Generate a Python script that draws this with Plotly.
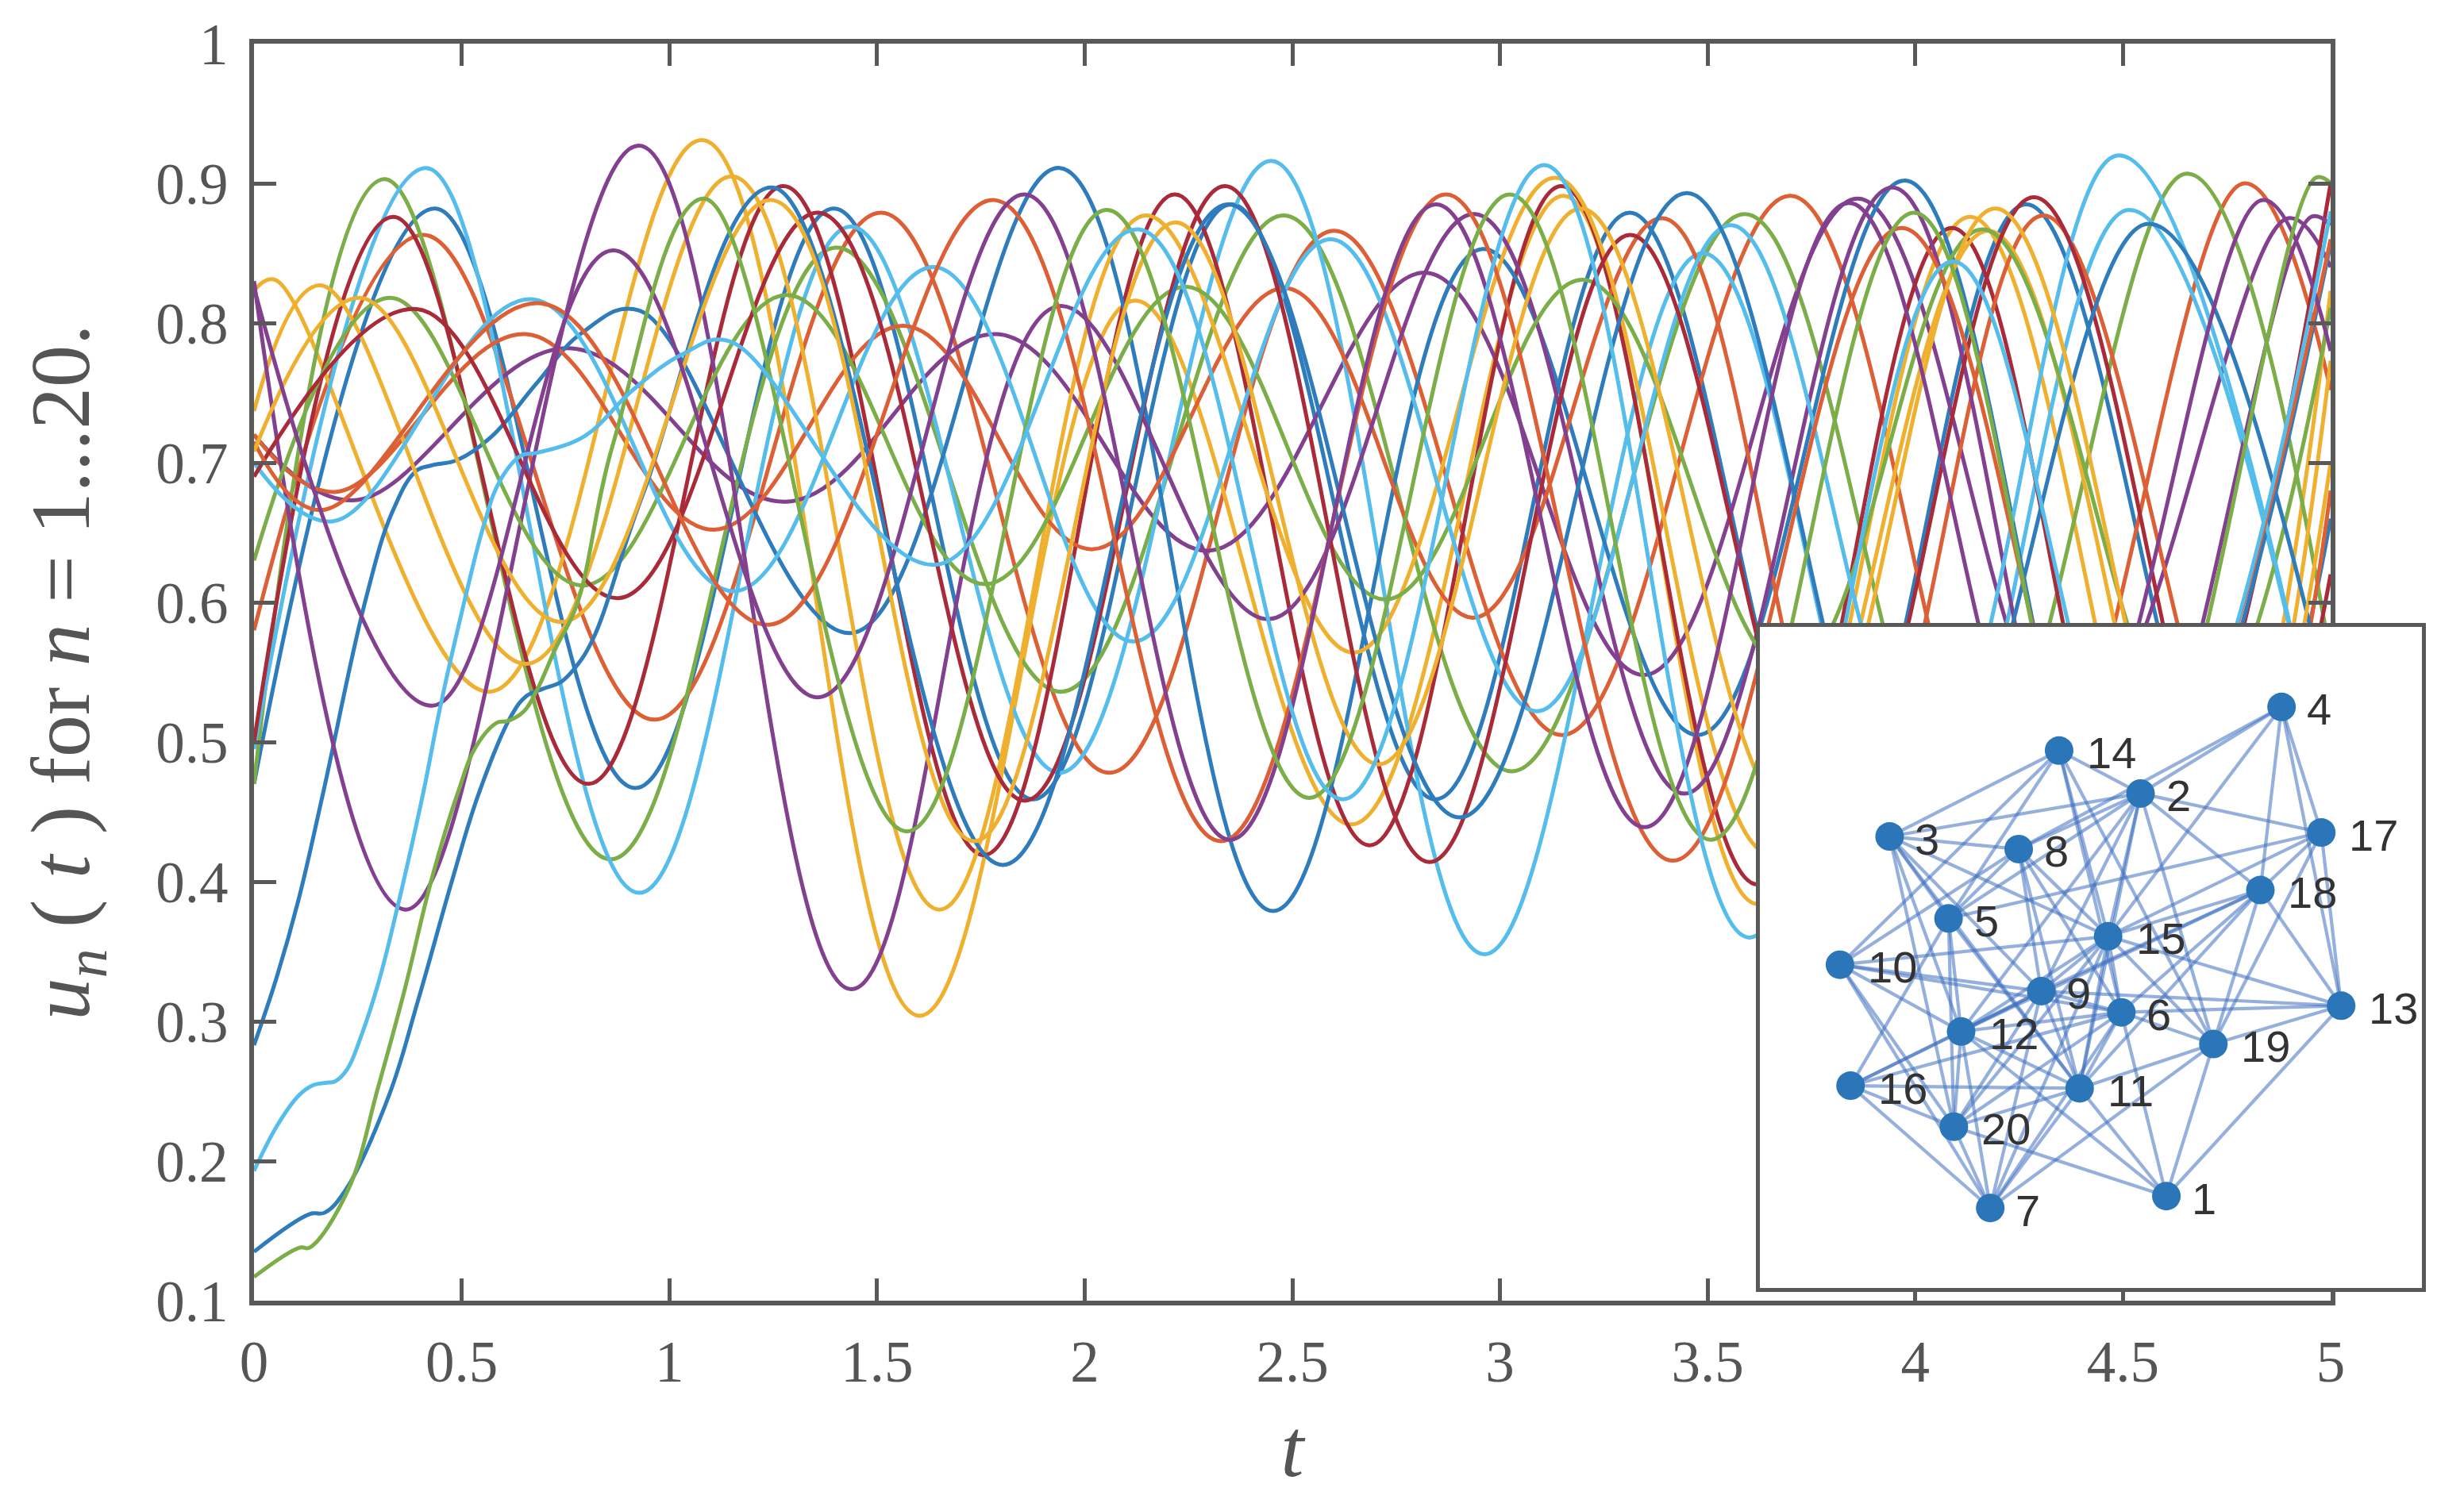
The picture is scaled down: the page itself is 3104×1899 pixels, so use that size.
import plotly.graph_objects as go

# ---- main curves: knots (t, u) ----
t_b1 = [0,.435,.918,1.396,1.876,2.353,2.845,3.312,3.8,4.267,4.76,5]
u_b1 = [.47,.882,.467,.882,.459,.885,.459,.879,.45,.885,.44,.66]
t_o1 = [0,.407,.965,1.51,2.059,2.6,3.15,3.70,4.25,4.793,5]
u_o1 = [.58,.863,.516,.879,.478,.866,.505,.891,.42,.90,.752]
t_y1 = [0,.05,.568,1.08,1.602,2.12,2.643,3.153,3.62,4.132,4.66,5]
u_y1 = [.823,.831,.536,.931,.304,.816,.441,.891,.384,.876,.37,.823]
t_p1 = [0,.237,.754,1.28,1.79,2.30,2.824,3.348,3.862,4.38,4.898,5]
u_p1 = [.72,.673,.782,.672,.792,.637,.836,.548,.889,.5,.875,.84]
t_g1 = [0,.313,.858,1.4,1.943,2.48,3.028,3.59,4.12,4.655,5]
u_g1 = [.47,.903,.416,.854,.536,.877,.479,.878,.45,.907,.56]
t_l1 = [0,.414,.927,1.436,1.94,2.45,2.962,3.488,4.0,4.515,5]
u_l1 = [.495,.911,.392,.869,.478,.916,.348,.85,.4,.881,.45]
t_r1 = [0,.335,.805,1.275,1.757,2.217,2.686,3.148,3.62,4.088,4.55,5]
u_r1 = [.50,.876,.47,.898,.419,.892,.426,.898,.398,.868,.41,.90]
t_b2 = [0,.054,.108,.166,.268,.332,.39,.427,.49,.573,.681,.79,.927,1.438,1.94,2.453,2.958,3.477,3.975,4.5,5]
u_b2 = [.283,.331,.388,.463,.601,.664,.694,.698,.702,.719,.757,.793,.809,.578,.911,.379,.853,.505,.902,.4,.857]
t_o2 = [0,.195,.654,1.107,1.564,2.02,2.484,2.937,3.392,3.85,4.308,4.8,5]
u_o2 = [.72,.679,.792,.652,.798,.638,.825,.589,.875,.45,.877,.45,.68]
t_y2 = [0,.158,.657,1.152,1.65,2.145,2.648,3.134,3.65,4.176,4.7,5]
u_y2 = [.737,.827,.556,.905,.38,.877,.564,.904,.42,.866,.38,.773]
t_p2 = [0,.365,.927,1.438,1.936,2.445,2.94,3.444,3.945,4.45,4.953,5]
u_p2 = [.83,.38,.927,.323,.812,.588,.878,.463,.897,.4,.876,.87]
t_g2 = [0,.325,.79,1.283,1.76,2.243,2.724,3.2,3.7,4.162,4.66,5]
u_g2 = [.63,.818,.612,.82,.613,.826,.602,.831,.55,.867,.5,.811]
t_l2 = [0,.189,.669,1.156,1.637,2.118,2.593,3.089,3.556,4.03,4.49,5]
u_l2 = [.70,.658,.817,.608,.84,.572,.86,.522,.87,.48,.92,.45]
t_r2 = [0,.392,.878,1.36,1.856,2.338,2.83,3.313,3.8,4.286,4.78,5]
u_r2 = [.69,.81,.603,.879,.458,.898,.414,.863,.45,.89,.42,.62]
t_b3 = [0,.134,.17,.22,.325,.395,.478,.541,.618,.656,.695,.739,.77,.815,.936,1.247,1.803,2.345,2.903,3.45,4.0,4.562,5]
u_b3 = [.135,.162,.163,.179,.247,.315,.402,.463,.518,.533,.538,.543,.552,.573,.677,.897,.412,.885,.446,.893,.42,.871,.52]
t_o3 = [0,.158,.691,1.24,1.783,2.328,2.87,3.416,3.967,4.5,5]
u_o3 = [.715,.666,.814,.584,.888,.429,.892,.415,.868,.42,.86]
t_y3 = [0,.255,.742,1.247,1.734,2.218,2.708,3.195,3.7,4.193,4.72,5]
u_y3 = [.708,.818,.586,.888,.429,.872,.484,.882,.45,.882,.39,.70]
t_p3 = [0,.428,.864,1.358,1.856,2.35,2.846,3.348,3.84,4.34,4.837,5]
u_p3 = [.825,.526,.852,.532,.892,.43,.885,.439,.886,.45,.888,.78]
t_g3 = [0,.11,.134,.226,.299,.363,.427,.49,.535,.586,.611,.65,.681,.726,.777,.866,1.083,1.572,2.053,2.541,3.024,3.507,3.997,4.48,4.964,5]
u_g3 = [.117,.138,.138,.179,.253,.323,.401,.463,.497,.514,.515,.522,.537,.567,.598,.715,.889,.436,.881,.46,.892,.43,.879,.41,.904,.9]
t_l3 = [0,.057,.108,.14,.172,.195,.225,.255,.299,.344,.407,.449,.51,.554,.592,.643,.681,.796,.912,1.034,1.144,1.643,2.13,2.622,3.107,3.6,4.09,4.55,5]
u_l3 = [.193,.226,.247,.254,.256,.257,.266,.287,.327,.38,.463,.526,.605,.656,.687,.705,.707,.719,.752,.778,.787,.627,.867,.459,.913,.36,.844,.45,.88]

series_t = [t_b1,t_o1,t_y1,t_p1,t_g1,t_l1,t_r1,t_b2,t_o2,t_y2,t_p2,t_g2,t_l2,t_r2,t_b3,t_o3,t_y3,t_p3,t_g3,t_l3]
series_u = [u_b1,u_o1,u_y1,u_p1,u_g1,u_l1,u_r1,u_b2,u_o2,u_y2,u_p2,u_g2,u_l2,u_r2,u_b3,u_o3,u_y3,u_p3,u_g3,u_l3]
cycle = ["#2e7cbc","#dc5f35","#efb02f","#83408f","#7bae48","#55bdec","#a92b3a"]

x_ticks = [0,.5,1,1.5,2,2.5,3,3.5,4,4.5,5]
x_labels = ["0","0.5","1","1.5","2","2.5","3","3.5","4","4.5","5"]
y_ticks = [.1,.2,.3,.4,.5,.6,.7,.8,.9,1]
y_labels = ["0.1","0.2","0.3","0.4","0.5","0.6","0.7","0.8","0.9","1"]

# ---- inset network ----
node_ids = list(range(1,21))
node_x = [.614,.575,.196,.788,.285,.546,.348,.391,.425,.121,.483,.304,.878,.452,.526,.137,.848,.756,.685,.293]
node_y = [.139,.748,.683,.879,.559,.417,.121,.664,.449,.489,.302,.388,.427,.813,.532,.306,.689,.602,.369,.244]
edge_a = [1,1,1,1,1,1, 2,2,2,2,2,2,2,2,2,2,2,2, 3,3,3,3,3,3,3,3, 4,4,4,4,4,
          5,5,5,5,5,5,5, 6,6,6,6,6,6,6,6,6,6,6,6,6, 7,7,7,7,7,7,7, 8,8,8,8,
          9,9,9,9,9,9,9,9, 10,10,10,10,10, 11,11,11,11,11,11, 12,12,12,12,
          13,13,13,13, 14,14, 15,15,15,15, 16, 17,17, 18]
edge_b = [13,19,6,11,12,20, 14,4,3,8,17,18,19,5,15,9,12,11, 14,8,5,15,9,12,20,11, 8,15,17,18,13,
          14,8,17,12,16,20,11, 8,9,10,11,12,13,14,15,16,18,19,20,7, 9,11,12,15,16,19,20, 10,9,11,15,
          10,11,12,13,15,16,18,20, 14,12,15,20,7, 12,15,16,18,19,20, 15,16,18,20,
          15,17,18,19, 15,19, 17,18,19,20, 20, 18,19, 19]

LINE = "#595959"
TXT = "#555555"
SERIF = "Liberation Serif"
fig = go.Figure()

for i, (tt, uu) in enumerate(zip(series_t, series_u)):
    fig.add_trace(go.Scatter(x=tt, y=uu, mode="lines", hoverinfo="skip", showlegend=False,
                             line=dict(color=cycle[i % 7], width=5, shape="spline", smoothing=1.1),
                             xaxis="x", yaxis="y"))

for a, b in zip(edge_a, edge_b):
    fig.add_trace(go.Scatter(x=[node_x[a-1], node_x[b-1]], y=[node_y[a-1], node_y[b-1]], mode="lines",
                             hoverinfo="skip", showlegend=False,
                             line=dict(color="rgba(62,112,192,0.55)", width=4.2),
                             xaxis="x2", yaxis="y2"))

fig.add_trace(go.Scatter(x=node_x, y=node_y, mode="markers", showlegend=False, hoverinfo="skip",
                         marker=dict(size=36, color="#2a76b8"), xaxis="x2", yaxis="y2"))

labels = [dict(x=px, y=py, xref="x2", yref="y2", text=str(n), showarrow=False,
               xanchor="left", yanchor="middle", xshift=(30 if n < 10 else 33), yshift=-3,
               font=dict(family="Liberation Sans", size=56, color="#333333"))
          for n, px, py in zip(node_ids, node_x, node_y)]

fig.update_layout(
    width=3104, height=1899, autosize=False,
    margin=dict(l=320, r=53, t=55, b=260, pad=0),
    paper_bgcolor="white", plot_bgcolor="white", showlegend=False, annotations=labels,
    xaxis=dict(domain=[0, 0.9579], range=[0, 5], tickvals=x_ticks, ticktext=x_labels,
               ticks="inside", ticklen=28, tickwidth=4.5, tickcolor=LINE, showgrid=False, zeroline=False,
               showline=True, linecolor=LINE, linewidth=6, mirror="ticks", ticklabelstandoff=8,
               tickfont=dict(family=SERIF, size=73, color=TXT),
               title=dict(text="<i>t</i>", font=dict(family=SERIF, size=104, color=TXT), standoff=34)),
    yaxis=dict(domain=[0, 1], range=[.1, 1], tickvals=y_ticks, ticktext=y_labels,
               ticks="inside", ticklen=28, tickwidth=4.5, tickcolor=LINE, showgrid=False, zeroline=False,
               showline=True, linecolor=LINE, linewidth=6, mirror="ticks", ticklabelstandoff=12,
               tickfont=dict(family=SERIF, size=73, color=TXT),
               title=dict(text="<i>u</i><sub><i>n</i></sub> ( <i>t</i> ) for <i>n</i> = 1...20.",
                          font=dict(family=SERIF, size=106, color=TXT), standoff=50)),
    xaxis2=dict(domain=[0.6946, 1], range=[0, 1], anchor="y2", showticklabels=False, ticks="",
                showgrid=False, zeroline=False, showline=True, linecolor=LINE, linewidth=5, mirror=True),
    yaxis2=dict(domain=[0.0101, 0.536], range=[0, 1], anchor="x2", showticklabels=False, ticks="",
                showgrid=False, zeroline=False, showline=True, linecolor=LINE, linewidth=5, mirror=True),
)

fig.write_html("out.html", config={"displayModeBar": False},
               post_script="document.body.style.margin='0';")
